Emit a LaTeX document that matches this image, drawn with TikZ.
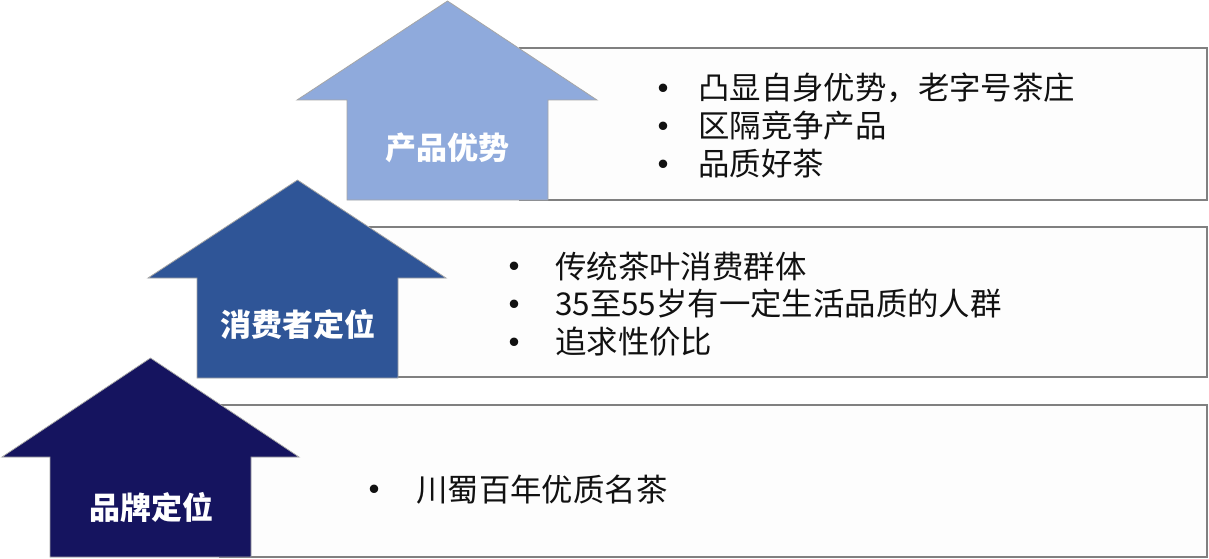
\documentclass[tikz,border=0pt]{standalone}
\usepackage{fontspec}
\setmainfont{Noto Sans CJK SC}
\definecolor{arrowA}{HTML}{8FAADC}
\definecolor{arrowB}{HTML}{2F5597}
\definecolor{arrowC}{HTML}{15145F}
\definecolor{edgegray}{HTML}{A6A6A6}
\definecolor{boxgray}{HTML}{808080}
\definecolor{boxfill}{HTML}{FDFDFD}
\definecolor{txt}{HTML}{111111}
\begin{document}
\begin{tikzpicture}[x=1pt,y=-1pt,
  infobox/.style={draw=boxgray,line width=1.6pt,fill=boxfill},
  uparrow/.style={draw=edgegray,line width=0.8pt,line join=miter},
  label/.style={anchor=base,text=white,font=\fontsize{31}{36}\selectfont\bfseries,inner sep=0pt},
  bul/.style={anchor=center,text=txt,font=\fontsize{40}{44}\selectfont,inner sep=0pt,text height=5pt,text depth=0pt},
  item/.style={anchor=base west,text=txt,font=\fontsize{31.4}{36}\selectfont,inner sep=0pt}]
\useasboundingbox (0,0) rectangle (1209,559);
\fill[white] (0,0) rectangle (1209,559);
% boxes
\draw[infobox] (520,48) rectangle (1207,200);
\draw[infobox] (370,227) rectangle (1207,377);
\draw[infobox] (220,405) rectangle (1207,557);
% arrows
\draw[uparrow,fill=arrowA] (447.5,1) -- (597,100) -- (548,100) -- (548,200) -- (347,200) -- (347,100) -- (297,100) -- cycle;
\draw[uparrow,fill=arrowB] (297.5,180) -- (446,278) -- (398,278) -- (398,378) -- (197,378) -- (197,278) -- (148,278) -- cycle;
\draw[uparrow,fill=arrowC] (150.5,358) -- (299,457) -- (251,457) -- (251,557) -- (50,557) -- (50,457) -- (2,457) -- cycle;
% labels
\node[label] (la) at (447.5,159) {产品优势};
\node[label] (lb) at (297.5,336) {消费者定位};
\node[label] (lc) at (151.5,519) {品牌定位};
% top list
\node[bul] (b11) at (663,101) {•};
\node[item] (t11) at (698,99.5) {凸显自身优势，老字号茶庄};
\node[bul] (b12) at (663,139) {•};
\node[item] (t12) at (698,137.5) {区隔竞争产品};
\node[bul] (b13) at (663,177) {•};
\node[item] (t13) at (698,175.5) {品质好茶};
% middle list
\node[bul] (b21) at (514,279) {•};
\node[item] (t21) at (555,278) {传统茶叶消费群体};
\node[bul] (b22) at (514,317) {•};
\node[item] (t22) at (555,315.5) {35至55岁有一定生活品质的人群};
\node[bul] (b23) at (514,355) {•};
\node[item] (t23) at (555,353.5) {追求性价比};
% bottom list
\node[bul] (b31) at (374,502) {•};
\node[item] (t31) at (416,501) {川蜀百年优质名茶};
\end{tikzpicture}
\end{document}
